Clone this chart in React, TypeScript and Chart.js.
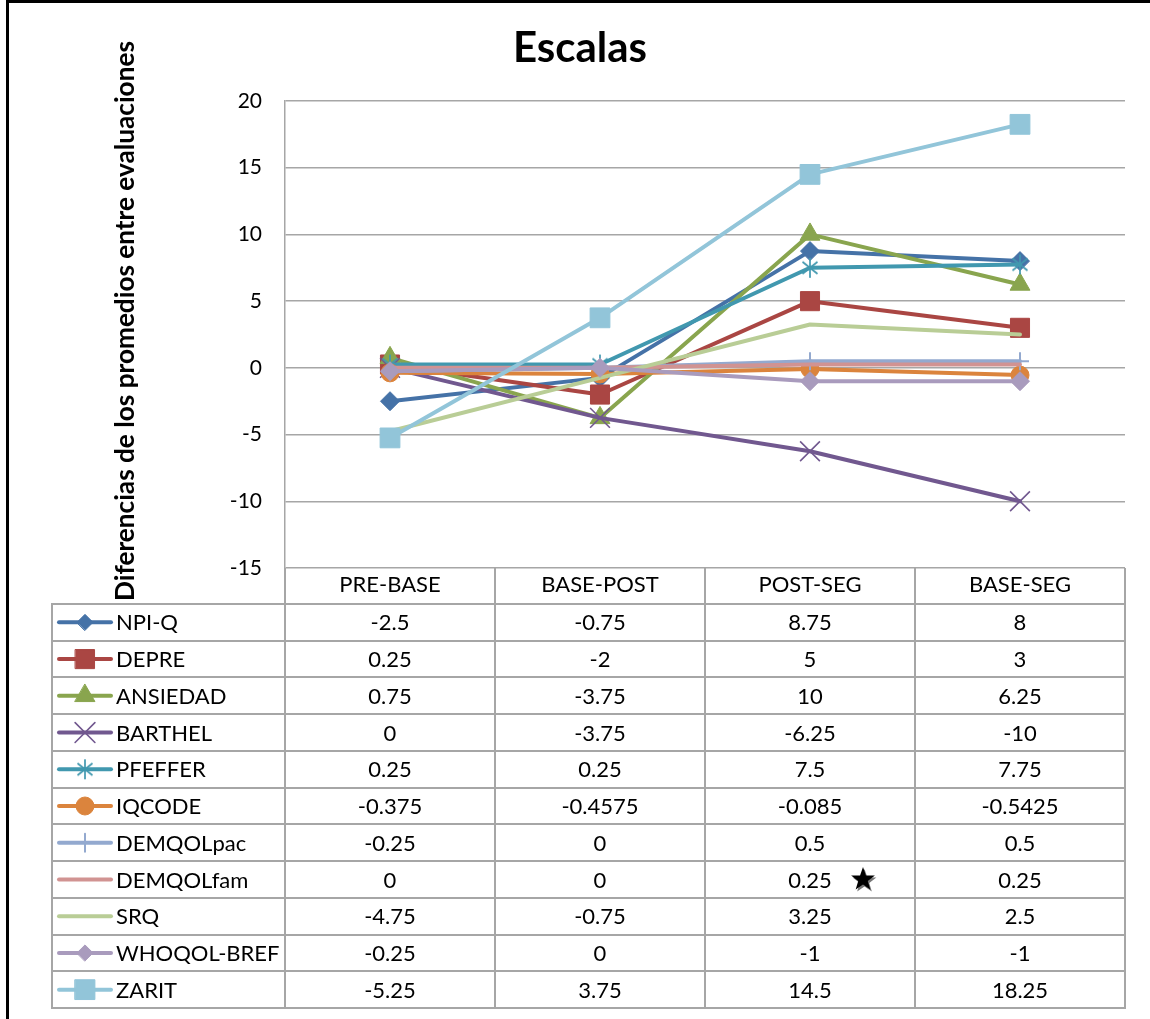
import { useEffect, useRef } from 'react';
import { Chart, registerables } from 'chart.js';
import { drawPoint } from 'chart.js/helpers';

Chart.register(...registerables);

// ---------- data ----------
const categories = ['PRE-BASE', 'BASE-POST', 'POST-SEG', 'BASE-SEG'];
const seriesNames = ['NPI-Q', 'DEPRE', 'ANSIEDAD', 'BARTHEL', 'PFEFFER', 'IQCODE', 'DEMQOLpac', 'DEMQOLfam', 'SRQ', 'WHOQOL-BREF', 'ZARIT'];
const npiq = [-2.5, -0.75, 8.75, 8];
const depre = [0.25, -2, 5, 3];
const ansiedad = [0.75, -3.75, 10, 6.25];
const barthel = [0, -3.75, -6.25, -10];
const pfeffer = [0.25, 0.25, 7.5, 7.75];
const iqcode = [-0.375, -0.4575, -0.085, -0.5425];
const demqolPac = [-0.25, 0, 0.5, 0.5];
const demqolFam = [0, 0, 0.25, 0.25];
const srq = [-4.75, -0.75, 3.25, 2.5];
const whoqol = [-0.25, 0, -1, -1];
const zarit = [-5.25, 3.75, 14.5, 18.25];
const seriesValues = [npiq, depre, ansiedad, barthel, pfeffer, iqcode, demqolPac, demqolFam, srq, whoqol, zarit];
const yMin = -15;
const yMax = 20;
const yStep = 5;
const chartTitle = 'Escalas';
const yAxisTitle = 'Diferencias de los promedios entre evaluaciones';

// ---------- styles ----------
const colors = ['#4572A7', '#AA4643', '#89A54E', '#71588F', '#4198AF', '#DB843D', '#93A9CF', '#D19392', '#B9CD96', '#A99BBD', '#92C5D9'];
const markerStyles: any[] = ['rectRot', 'rect', 'triangle', 'crossRot', 'asterisk', 'circle', 'cross', false, false, 'rectRot', 'rect'];
const markerRadius = [9.5, 13.5, 11.5, 14, 11, 9, 9, 0, 0, 9.5, 14];
const markerBorder = [1, 1, 1, 1.6, 1.6, 1, 2, 0, 0, 1, 1];
const FONT = 'Lato, "Open Sans", sans-serif';
const GRID = '#A6A6A6';

function makeAsterisk(color: string) {
  const c = document.createElement('canvas');
  c.width = 22;
  c.height = 22;
  const g = c.getContext('2d')!;
  g.strokeStyle = color;
  g.lineWidth = 1.7;
  g.beginPath();
  g.moveTo(3.5, 5); g.lineTo(18.5, 17);
  g.moveTo(18.5, 5); g.lineTo(3.5, 17);
  g.moveTo(11, 1); g.lineTo(11, 21);
  g.stroke();
  return c;
}

function drawStar(ctx: CanvasRenderingContext2D, cx: number, cy: number, ro: number, ri: number) {
  ctx.beginPath();
  for (let k = 0; k < 10; k++) {
    const r = k % 2 === 0 ? ro : ri;
    const a = -Math.PI / 2 + (k * Math.PI) / 5;
    const px = cx + r * Math.cos(a);
    const py = cy + r * Math.sin(a);
    if (k === 0) ctx.moveTo(px, py); else ctx.lineTo(px, py);
  }
  ctx.closePath();
  ctx.fill();
}

const HEADER_H = 36;
const TABLE_BOTTOM = 1008;
const TABLE_LEFT = 52;

const decorPlugin = {
  id: 'decor',
  afterDraw(chart: any) {
    const ctx: CanvasRenderingContext2D = chart.ctx;
    const area = chart.chartArea;
    const xs = chart.scales.x;
    const n = categories.length;
    const colW = xs.getPixelForValue(1) - xs.getPixelForValue(0);
    const edges: number[] = [];
    for (let i = 0; i <= n; i++) edges.push(Math.round(xs.getPixelForValue(0) - colW / 2 + i * colW));
    const headerBottom = area.bottom + HEADER_H;
    const rowH = (TABLE_BOTTOM - headerBottom) / seriesNames.length;

    ctx.save();
    // frame
    ctx.fillStyle = '#000';
    ctx.fillRect(6, 0, 3, chart.height);
    ctx.fillRect(6, 0, chart.width - 6, 3);

    // title
    ctx.fillStyle = '#000';
    ctx.font = `bold 42px ${FONT}`;
    ctx.textAlign = 'center';
    ctx.textBaseline = 'alphabetic';
    ctx.fillText(chartTitle, 580, 62);

    // y axis title (rotated)
    ctx.save();
    ctx.translate(134, 321);
    ctx.rotate(-Math.PI / 2);
    ctx.font = `bold 26px ${FONT}`;
    const w = ctx.measureText(yAxisTitle).width;
    const fs = 26 * 560 / w;
    ctx.font = `bold ${fs.toFixed(1)}px ${FONT}`;
    ctx.fillText(yAxisTitle, 0, 0);
    ctx.restore();

    // table lines
    ctx.strokeStyle = GRID;
    ctx.lineWidth = 2;
    ctx.beginPath();
    for (let i = 0; i <= n; i++) {
      ctx.moveTo(edges[i], area.bottom);
      ctx.lineTo(edges[i], TABLE_BOTTOM);
    }
    ctx.moveTo(TABLE_LEFT, headerBottom);
    ctx.lineTo(TABLE_LEFT, TABLE_BOTTOM);
    for (let r = 0; r <= seriesNames.length; r++) {
      const y = Math.round(headerBottom + r * rowH);
      ctx.moveTo(TABLE_LEFT - 1, y);
      ctx.lineTo(edges[n] + 1, y);
    }
    ctx.stroke();

    // rows
    ctx.font = `22px ${FONT}`;
    ctx.textBaseline = 'middle';
    for (let r = 0; r < seriesNames.length; r++) {
      const cy = headerBottom + (r + 0.5) * rowH;
      const col = colors[r];
      // legend key line
      ctx.strokeStyle = col;
      ctx.lineWidth = 4;
      ctx.lineCap = 'round';
      ctx.beginPath();
      ctx.moveTo(59, cy);
      ctx.lineTo(111, cy);
      ctx.stroke();
      const ms = chart.data.datasets[r].pointStyle;
      if (markerRadius[r] > 0) {
        ctx.fillStyle = col;
        ctx.strokeStyle = col;
        ctx.lineWidth = markerBorder[r];
        drawPoint(ctx, { pointStyle: ms, radius: markerStyles[r] === 'rectRot' ? 8 : markerRadius[r], borderWidth: markerBorder[r], rotation: 0 } as any, 85, cy);
      }
      ctx.fillStyle = '#000';
      ctx.textAlign = 'left';
      ctx.fillText(seriesNames[r], 116, cy + 1);
      ctx.textAlign = 'center';
      for (let c = 0; c < n; c++) {
        ctx.fillText(String(seriesValues[r][c]), xs.getPixelForValue(c), cy + 1);
      }
    }

    // star annotation (DEMQOLfam row, POST-SEG column)
    const sRow = 7;
    const sy = headerBottom + (sRow + 0.5) * rowH;
    const sx = xs.getPixelForValue(2) + 53;
    ctx.fillStyle = '#777';
    drawStar(ctx, sx + 1.5, sy + 2, 12.5, 5);
    ctx.fillStyle = '#000';
    drawStar(ctx, sx, sy, 12.5, 5);
    ctx.restore();
  },
};

export default function App() {
  const ref = useRef<HTMLCanvasElement>(null);
  useEffect(() => {
    const canvas = ref.current!;
    const asterisk = makeAsterisk(colors[4]);
    const datasets = seriesNames.map((name, i) => ({
      label: name,
      data: seriesValues[i],
      borderColor: colors[i],
      backgroundColor: colors[i],
      borderWidth: 4,
      borderJoinStyle: 'round' as const,
      borderCapStyle: 'round' as const,
      pointStyle: markerStyles[i] === 'asterisk' ? asterisk : markerStyles[i],
      pointRadius: markerRadius[i],
      pointBorderWidth: markerBorder[i],
      pointBorderColor: colors[i],
      pointBackgroundColor: colors[i],
      tension: 0,
      order: -i,
      clip: false as const,
    }));
    const chart = new Chart(canvas, {
      type: 'line',
      data: { labels: categories, datasets: datasets as any },
      options: {
        responsive: false,
        animation: false,
        devicePixelRatio: 1,
        events: [],
        layout: { padding: { left: 0, top: 101, right: 25, bottom: 0 } },
        plugins: { legend: { display: false }, title: { display: false }, tooltip: { enabled: false } },
        scales: {
          x: {
            type: 'category',
            offset: true,
            position: 'bottom',
            grid: { display: false, drawTicks: false },
            border: { display: false },
            ticks: { font: { family: FONT, size: 22 }, color: '#000', padding: 4, maxRotation: 0, autoSkip: false },
            afterFit: (s: any) => { s.height = 451; },
          },
          y: {
            min: yMin,
            max: yMax,
            ticks: { stepSize: yStep, font: { family: FONT, size: 21 }, color: '#000', padding: 23 },
            grid: { color: GRID, lineWidth: 1.5, drawTicks: false },
            border: { display: true, color: GRID, width: 1.5 },
            afterFit: (s: any) => { s.width = 285; },
          },
        },
      } as any,
      plugins: [decorPlugin],
    });
    return () => chart.destroy();
  }, []);
  return (
    <div style={{ position: 'absolute', left: 0, top: 0, width: 1150, height: 1019, background: '#fff' }}>
      <canvas ref={ref} width={1150} height={1019} style={{ display: 'block' }} />
    </div>
  );
}
